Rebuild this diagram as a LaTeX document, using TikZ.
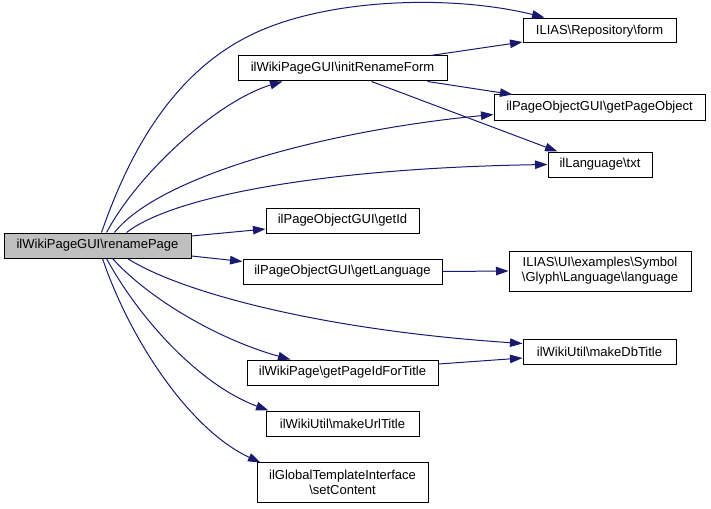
\documentclass[tikz,border=0pt]{standalone}
\usepackage{fontspec}
\setmainfont{Liberation Sans}
\usetikzlibrary{calc,arrows.meta}
\definecolor{edgeblue}{RGB}{25,25,112}
\definecolor{rootgray}{RGB}{191,191,191}
\begin{document}
\begin{tikzpicture}[x=1pt,y=-1pt,
  fn/.style={draw=black,line width=1pt,inner sep=0pt,align=center,
    font=\fontsize{13}{15}\selectfont,fill=white},
  rootbox/.style={fn,fill=rootgray},
  call/.style={draw=edgeblue,line width=1pt,-{Triangle[length=12.5pt,width=8.5pt]}}]
\useasboundingbox (0,0) rectangle (711,508);
% nodes
\node[rootbox,minimum width=187pt,minimum height=25pt] (root) at (97.5,245.5) {ilWikiPageGUI\textbackslash renamePage};
\node[fn,minimum width=209pt,minimum height=25pt] (init) at (342.5,68.5) {ilWikiPageGUI\textbackslash initRenameForm};
\node[fn,minimum width=153pt,minimum height=24pt] (form) at (599.5,31) {ILIAS\textbackslash Repository\textbackslash form};
\node[fn,minimum width=211pt,minimum height=25pt] (gpo) at (599.5,107.5) {ilPageObjectGUI\textbackslash getPageObject};
\node[fn,minimum width=104pt,minimum height=25pt] (txt) at (600,164.5) {ilLanguage\textbackslash txt};
\node[fn,minimum width=153pt,minimum height=25pt] (getid) at (342.5,220.5) {ilPageObjectGUI\textbackslash getId};
\node[fn,minimum width=199pt,minimum height=25pt] (getlang) at (342.5,271.5) {ilPageObjectGUI\textbackslash getLanguage};
\node[fn,minimum width=182pt,minimum height=40pt] (sym) at (600,271) {ILIAS\textbackslash UI\textbackslash examples\textbackslash Symbol\\\textbackslash Glyph\textbackslash Language\textbackslash language};
\node[fn,minimum width=153pt,minimum height=25pt] (mdb) at (599.5,351.5) {ilWikiUtil\textbackslash makeDbTitle};
\node[fn,minimum width=191pt,minimum height=25pt] (gpift) at (342.5,372.5) {ilWikiPage\textbackslash getPageIdForTitle};
\node[fn,minimum width=153pt,minimum height=25pt] (murl) at (342.5,423.5) {ilWikiUtil\textbackslash makeUrlTitle};
\node[fn,minimum width=171pt,minimum height=40pt] (setc) at (342.5,482) {ilGlobalTemplateInterface\\\textbackslash setContent};
% edges from root
\draw[call] ($(root.north west)+(98,0)$) .. controls (125,165) and (165,80) .. (245,38)
   .. controls (320,-2) and (450,-6) .. ($(form.north west)+(22,-1)$);
\draw[call] ($(root.north west)+(103,0)$) .. controls (140,170) and (220,100) .. ($(init.south west)+(45,0)$);
\draw[call] ($(root.north west)+(111,0)$) .. controls (160,175) and (330,130) .. ($(gpo.west)+(0,7)$);
\draw[call] ($(root.north west)+(123,0)$) .. controls (175,195) and (330,168) .. (txt.west);
\draw[call] ($(root.east)+(0,-9.5)$) -- ($(getid.west)+(0,8.5)$);
\draw[call] ($(root.east)+(0,10.5)$) -- ($(getlang.west)+(0,-10)$);
\draw[call] ($(root.south west)+(124,0)$) .. controls (180,292) and (320,330) .. ($(mdb.west)+(0,-8)$);
\draw[call] ($(root.south west)+(109,0)$) .. controls (150,300) and (220,340) .. ($(gpift.north west)+(44,0)$);
\draw[call] ($(root.south west)+(103,0)$) .. controls (140,320) and (200,385) .. ($(murl.north west)+(3,0)$);
\draw[call] ($(root.south west)+(99,0)$) .. controls (130,340) and (190,430) .. ($(setc.north west)+(4,1)$);
% other edges
\draw[call] ($(init.north east)+(-17,0)$) -- ($(form.west)+(0,11)$);
\draw[call] ($(init.south east)+(-20,0)$) -- ($(gpo.north west)+(19,0)$);
\draw[call] ($(init.south west)+(134,0)$) -- ($(txt.north west)+(10,0)$);
\draw[call] (getlang.east) -- (sym.west);
\draw[call] ($(gpift.east)+(0,-8.5)$) -- ($(mdb.west)+(0,6.5)$);
\end{tikzpicture}
\end{document}
